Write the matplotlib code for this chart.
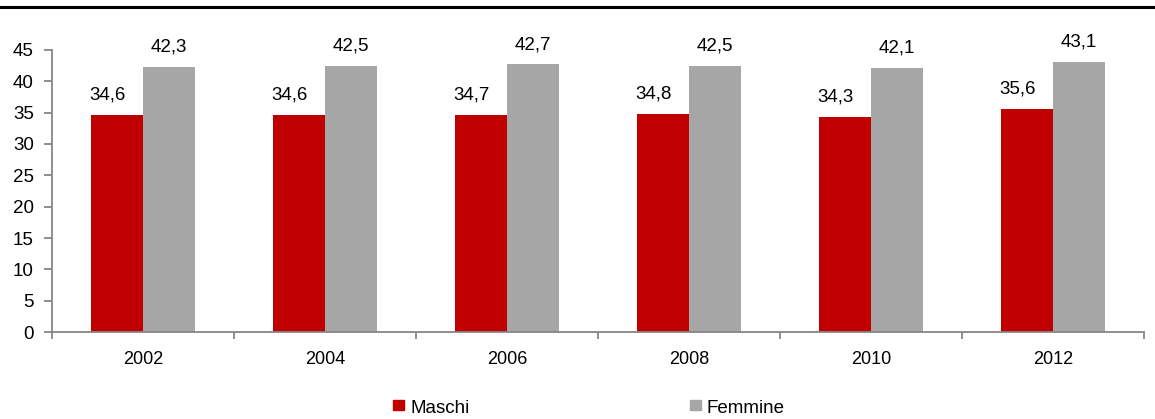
import matplotlib.pyplot as plt
import numpy as np
from matplotlib.patches import Rectangle
import matplotlib.lines as mlines

plt.rcParams['font.family'] = ['Liberation Sans Narrow', 'Liberation Sans', 'DejaVu Sans']

# Data
years = ['2002', '2004', '2006', '2008', '2010', '2012']
maschi = [34.6, 34.6, 34.7, 34.8, 34.3, 35.6]
femmine = [42.3, 42.5, 42.7, 42.5, 42.1, 43.1]

RED = '#C00000'
GRAY = '#A6A6A6'
AXIS = '#868686'

fig = plt.figure(figsize=(11.55, 4.19), dpi=100)
ax = fig.add_axes([0.045, 0.2076, 0.9455, 0.6731])

x = np.arange(len(years))
w = 0.286
b1 = ax.bar(x - w / 2, maschi, w, color=RED, label='Maschi')
b2 = ax.bar(x + w / 2, femmine, w, color=GRAY, label='Femmine')

for bars, vals, dx in ((b1, maschi, -0.05), (b2, femmine, 0.0)):
    for r, v in zip(bars, vals):
        ax.text(r.get_x() + r.get_width() / 2 + dx, v + 1.8, f'{v:.1f}'.replace('.', ','),
                ha='center', va='bottom', fontsize=13.5)

ax.set_xlim(-0.5, len(years) - 0.5)
ax.set_ylim(0, 45)
ax.set_yticks(range(0, 50, 5))
ax.tick_params(axis='y', labelsize=13.5, color=AXIS, length=6, width=1.3, pad=7)

# category labels centred, ticks at category boundaries
ax.set_xticks(x)
ax.set_xticklabels(years, fontsize=13)
ax.set_xticks(np.arange(-0.5, len(years)), minor=True)
ax.tick_params(axis='x', which='major', length=0, pad=14)
ax.tick_params(axis='x', which='minor', length=5, width=1.3, color=AXIS)

for s in ('top', 'right'):
    ax.spines[s].set_visible(False)
for s in ('left', 'bottom'):
    ax.spines[s].set_color(AXIS)
    ax.spines[s].set_linewidth(1.3)

# top rule across the whole figure
fig.add_artist(mlines.Line2D([0, 1], [0.984, 0.984], color='black', lw=2.2,
                             transform=fig.transFigure))

# legend at bottom
for lx, lab, col in ((0.340, 'Maschi', RED), (0.597, 'Femmine', GRAY)):
    fig.add_artist(Rectangle((lx, 0.021), 0.0095, 0.024, color=col, transform=fig.transFigure))
    fig.text(lx + 0.015, 0.024, lab, fontsize=13.5, va='center', ha='left')

fig.savefig('out.png', dpi=100, facecolor='white')
